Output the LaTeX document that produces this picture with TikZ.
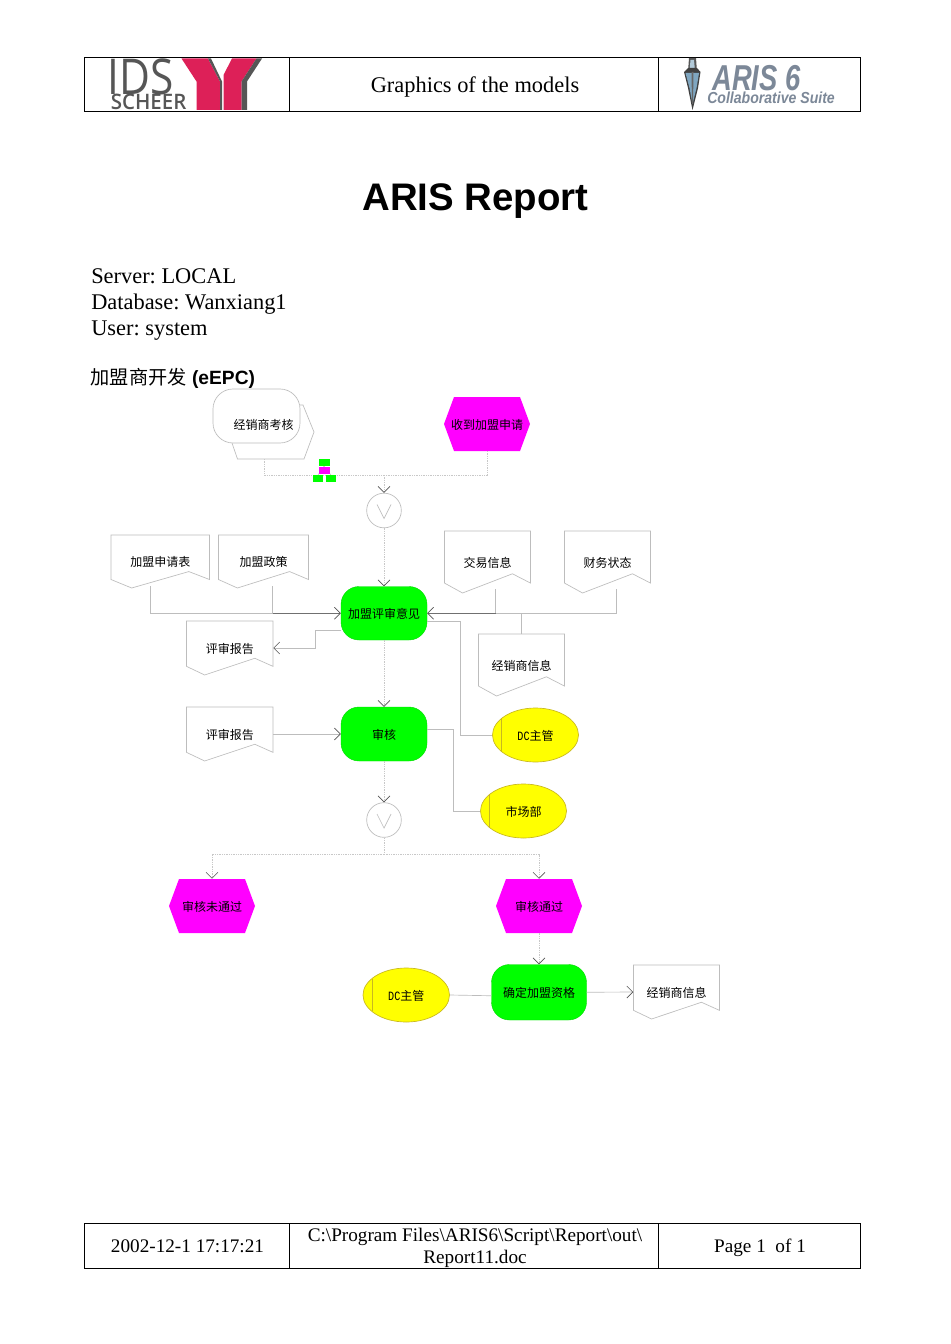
\documentclass[tikz,border=0pt]{standalone}
\usepackage{fontspec}
\setmainfont{Liberation Serif}
\newfontfamily\cjk{Noto Sans CJK SC}
\newfontfamily\lsans{Liberation Sans}
\newfontfamily\osansn[FakeStretch=0.86]{Open Sans}
\newfontfamily\osansb[FakeStretch=0.96]{Open Sans Semibold}
\newfontfamily\arisbig[FakeStretch=0.76,ItalicFont={Liberation Sans Bold Italic},BoldItalicFont={Liberation Sans Bold Italic}]{Liberation Sans}
\newfontfamily\arissmall[FakeStretch=0.88,ItalicFont={Liberation Sans Bold Italic},BoldItalicFont={Liberation Sans Bold Italic}]{Liberation Sans}
\newfontfamily\dcmono[FakeStretch=0.8]{Liberation Mono}
\usetikzlibrary{arrows.meta,shapes.geometric,calc}
\definecolor{conn}{HTML}{BDBDBD}
\definecolor{sharedc}{HTML}{707070}
\definecolor{dashc}{HTML}{C8C8C8}
\definecolor{tipc}{HTML}{555555}
\definecolor{evt}{HTML}{FF00FF}
\definecolor{fnc}{HTML}{00FF00}
\definecolor{org}{HTML}{FFFF00}
\definecolor{orgline}{HTML}{C8B820}
\definecolor{idsgray}{HTML}{565656}
\definecolor{idspink}{HTML}{DD2058}
\definecolor{arisgray}{HTML}{7C8898}
\definecolor{bobblue}{HTML}{7FA6C0}
\tikzset{
  frameline/.style={draw=black,line width=0.75pt},
  dtext/.style={font=\cjk\fontsize{9}{11}\selectfont,text=black,inner sep=0pt,text height=8pt,text depth=0.4pt},
  docbox/.style={dtext,rectangle},
  docline/.style={draw=conn,line width=0.5pt},
  fncbox/.style={dtext,rectangle,rounded corners=13.5pt,fill=fnc,draw=fnc!85!black,line width=0.3pt},
  orgbox/.style={dtext,ellipse,fill=org,draw=orgline,line width=0.5pt},
  gatebox/.style={circle,draw=conn,line width=0.5pt,inner sep=0pt,minimum size=26pt},
  plainline/.style={draw=conn,line width=0.5pt},
  sharedline/.style={draw=sharedc,line width=0.5pt},
  arr/.style={plainline,-{Straight Barb[length=4.5pt,width=9pt,line width=0.45pt,color=tipc]}},
  flow/.style={draw=dashc,line width=0.6pt,dash pattern=on 1pt off 0.75pt},
  flowarr/.style={flow,-{Straight Barb[length=4.5pt,width=9pt,line width=0.45pt,color=tipc]}},
  serif14/.style={font=\fontsize{16.8}{20}\selectfont,inner sep=0pt,anchor=base},
  foot/.style={font=\fontsize{14.4}{16.5}\selectfont,inner sep=0pt,anchor=base},
}
% name x1 y1 x2 y2 text
\newcommand\docnode[6]{%
  \pgfmathsetmacro\nw{(#4-#2)*0.75}\pgfmathsetmacro\nh{(#5-#3)*0.75}%
  \node[docbox,minimum width=\nw pt,minimum height=\nh pt] (#1) at ({(#2+#4)/2},{(#3+#5)/2}) {#6};
  \draw[docline] (#2,#3) -- (#4,#3) -- (#4,{#3+0.84*(#5-#3)}) -- ({#2+0.79*(#4-#2)},{#3+0.69*(#5-#3)})
     -- ({#2+0.21*(#4-#2)},#5) -- (#2,{#3+0.84*(#5-#3)}) -- cycle;
}
\newcommand\evtnode[6]{%
  \pgfmathsetmacro\nw{(#4-#2)*0.75}\pgfmathsetmacro\nh{(#5-#3)*0.75}%
  \fill[evt] (#2,{(#3+#5)/2}) -- ({#2+10},#3) -- ({#4-10},#3) -- (#4,{(#3+#5)/2}) -- ({#4-10},#5) -- ({#2+10},#5) -- cycle;
  \node[docbox,minimum width=\nw pt,minimum height=\nh pt] (#1) at ({(#2+#4)/2},{(#3+#5)/2}) {#6};
}
\newcommand\fncnode[6]{%
  \pgfmathsetmacro\nw{(#4-#2)*0.75}\pgfmathsetmacro\nh{(#5-#3)*0.75}%
  \node[fncbox,minimum width=\nw pt,minimum height=\nh pt] (#1) at ({(#2+#4)/2},{(#3+#5)/2}) {#6};
}
% name x1 y1 x2 y2 barx text
\newcommand\orgnode[7]{%
  \pgfmathsetmacro\nw{(#4-#2)*0.75}\pgfmathsetmacro\nh{(#5-#3)*0.75}%
  \node[orgbox,minimum width=\nw pt,minimum height=\nh pt] (#1) at ({(#2+#4)/2},{(#3+#5)/2}) {#7};
  \pgfmathsetmacro\dy{((#5-#3)/2)*sqrt(1-((#6-(#2+#4)/2)/((#4-#2)/2))^2)}%
  \draw[orgline,line width=0.5pt] (#6,{(#3+#5)/2-\dy}) -- (#6,{(#3+#5)/2+\dy});
}
\newcommand\gatenode[3]{%
  \node[gatebox] (#1) at (#2,#3) {};
  \draw[conn,line width=0.5pt] ({#2-7},{#3-6}) -- (#2,{#3+8}) -- ({#2+7},{#3-6});
}
\newcommand\dc{{\dcmono\fontsize{9.5}{9}\selectfont DC}}
\begin{document}
\frenchspacing
\begin{tikzpicture}[x=0.75pt,y=-0.75pt]
\useasboundingbox (0,0) rectangle (950,1344);
\fill[white] (0,0) rectangle (950,1344);

% ---------- header ----------
\draw[frameline] (84.5,57.5) rectangle (860.5,111.5);
\draw[frameline] (289.5,57.5) -- (289.5,111.5);
\draw[frameline] (658.5,57.5) -- (658.5,111.5);
% IDS logo
\fill[idspink] (181.5,58.5) -- (208,58.5) -- (220,81.5) -- (220,110) -- (196.5,110) -- (196.5,81.5) -- cycle;
\fill[idspink] (232,58.5) -- (256.5,58.5) -- (241.5,81.5) -- (241.5,110) -- (223.5,110) -- (223.5,75) -- cycle;
\fill[idsgray] (208,58.5) -- (211,58.5) -- (222,81.5) -- (222,110) -- (220,110) -- (220,81.5) -- cycle;
\fill[idsgray] (256.5,58.5) -- (262,58.5) -- (247,81.5) -- (247,110) -- (241.5,110) -- (241.5,81.5) -- cycle;
\node[font=\osansn\fontsize{37}{40}\selectfont,text=idsgray,inner sep=0pt,anchor=base west] (ids) at (107,95) {IDS};
\node[font=\osansb\fontsize{16}{18}\selectfont,text=idsgray,inner sep=0pt,anchor=base west] (scheer) at (110.5,109.5) {SCHEER};
% ARIS logo
\fill[idsgray] (689,58) -- (696,58) -- (697,72) -- (688,72) -- cycle;
\fill[bobblue!60] (690.5,60) -- (694,60) -- (695,71) -- (689.5,71) -- cycle;
\fill[black!75] (684,72) -- (688,68) -- (697,68) -- (700.5,72) -- (698,88) -- (692.5,110) -- (688,88) -- cycle;
\fill[bobblue] (685.5,73) -- (699,73) -- (696.5,88) -- (692.5,104) -- (689.5,88) -- cycle;
\fill[black!60] (691.5,72) -- (693.5,72) -- (693,104) -- (692,104) -- cycle;
\node[font=\arisbig\itshape\fontsize{27}{30}\selectfont,text=arisgray,inner sep=0pt,anchor=base west] (aris) at (712,91) {ARIS 6};
\node[font=\arissmall\itshape\fontsize{12}{14}\selectfont,text=arisgray,inner sep=0pt,anchor=base west] (collab) at (707,104) {Collaborative Suite};
\node[serif14] (hdr) at (475,93) {Graphics of the models};

% ---------- titles ----------
\node[font=\lsans\bfseries\fontsize{28.8}{32}\selectfont,inner sep=0pt,anchor=base] (title) at (475.5,211) {ARIS Report};
\node[serif14,anchor=base west] (srv) at (91,284) {Server: LOCAL};
\node[serif14,anchor=base west] (db) at (91,310) {Database: Wanxiang1};
\node[serif14,anchor=base west] (usr) at (91,335) {User: system};
\node[font=\lsans\bfseries\fontsize{14.4}{16}\selectfont,inner sep=0pt,anchor=base west] (mdl) at (90.5,384) {{\cjk\mdseries 加盟商开发} (eEPC)};

% ---------- diagram nodes ----------
% process interface
\draw[docline] (300,405) -- (303,405) -- (314,432) -- (304,459) -- (237.5,459) -- (232,443);
\draw[docline,rounded corners=15pt] (213,389) rectangle (300,443);
\node[docbox,minimum width=75.75pt,minimum height=52.5pt] (pif) at (263.5,424) {经销商考核};
\evtnode{ev1}{444}{397}{530}{451}{收到加盟申请}
\gatenode{g1}{384}{510.5}
\docnode{d1}{111}{535}{209.5}{588}{加盟申请表}
\docnode{d2}{218.5}{535}{308.5}{588}{加盟政策}
\docnode{d3}{444.5}{531}{530.5}{593}{交易信息}
\docnode{d4}{564.5}{531}{650.5}{593}{财务状态}
\docnode{d5}{478.5}{634}{564.5}{696}{经销商信息}
\docnode{d6}{186.5}{621}{273}{675}{评审报告}
\docnode{d7}{186.5}{707}{273}{761}{评审报告}
\fncnode{f1}{341}{586.5}{427}{640}{加盟评审意见}
\fncnode{f2}{341}{707}{427}{761}{审核}
\fncnode{f3}{491.5}{964.5}{586.5}{1020}{确定加盟资格}
\orgnode{o1}{492.5}{708}{578.5}{762}{501.5}{\dc 主管}
\orgnode{o2}{480.5}{784}{566.5}{838}{489.5}{市场部}
\orgnode{o3}{363}{968}{449.5}{1022}{372}{\dc 主管}
\gatenode{g2}{384}{820}
\evtnode{ev2}{169}{879}{255}{933}{审核未通过}
\evtnode{ev3}{496}{879}{582}{933}{审核通过}
\docnode{d8}{633.5}{965}{719.5}{1019}{经销商信息}

% ---------- connectors ----------
\coordinate (j1) at (384,475);
\coordinate (p1) at (264,459);
\coordinate (e1) at (487,451);
\draw[flow] (p1) |- (j1);
\draw[flow] (e1) |- (j1);
\draw[flowarr] (j1) -- (g1.north);
\draw[flowarr] (g1.south) -- (f1.north);
\coordinate (k1) at (150.5,586);
\coordinate (k2) at (272.5,586);
\coordinate (k3) at (495.5,589);
\coordinate (k4) at (616.5,589);
\coordinate (k5) at (521.5,634);
\draw[plainline] (k1) |- (k2 |- f1.west);
\draw[plainline] (k2) -- (k2 |- f1.west);
\draw[sharedline,-{Straight Barb[length=4.5pt,width=9pt,line width=0.45pt,color=tipc]}] (k2 |- f1.west) -- (f1.west);
\draw[plainline] (k4) |- (k3 |- f1.east);
\draw[plainline] (k3) -- (k3 |- f1.east);
\draw[sharedline,-{Straight Barb[length=4.5pt,width=9pt,line width=0.45pt,color=tipc]}] (k3 |- f1.east) -- (f1.east);
\draw[plainline] (k5) -- (k5 |- f1.east);
\coordinate (a1) at (341,630);
\coordinate (a2) at (315.5,630);
\coordinate (a3) at (315.5,648);
\draw[arr] (a1) -- (a2) -- (a3) -- (d6.east);
\coordinate (b1) at (427,621);
\coordinate (b2) at (460.5,621);
\draw[plainline] (b1) -- (b2) |- (o1.west);
\draw[flowarr] (f1.south) -- (f2.north);
\draw[arr] (d7.east) -- (f2.west);
\coordinate (c1) at (427,729.5);
\coordinate (c2) at (453.5,729.5);
\draw[plainline] (c1) -- (c2) |- (o2.west);
\draw[flowarr] (f2.south) -- (g2.north);
\coordinate (j2) at (384,854);
\draw[flow] (g2.south) -- (j2);
\draw[flowarr] (j2) -| (ev2.north);
\draw[flowarr] (j2) -| (ev3.north);
\draw[flowarr] (ev3.south) -- (f3.north);
\draw[plainline] (o3.east) -- ($(f3.west)+(0,3.5)$);
\draw[arr] (f3.east) -- (d8.west);

% icon
\draw[conn,line width=0.4pt] (324,466) -- (318,475);
\draw[conn,line width=0.4pt] (324,466) -- (331,475);
\fill[fnc] (319,459) rectangle (329.5,465.5);
\fill[evt] (319,467) rectangle (329.5,474);
\fill[fnc] (313,475) rectangle (323,481.5);
\fill[fnc] (326,475) rectangle (336,481.5);

% ---------- footer ----------
\draw[frameline] (84.5,1223) rectangle (860.5,1268);
\draw[frameline] (289.5,1223) -- (289.5,1268);
\draw[frameline] (658.5,1223) -- (658.5,1268);
\node[foot] (fa) at (187.5,1252) {2002-12-1 17:17:21};
\node[foot] (fb) at (475,1241) {C:\textbackslash Program Files\textbackslash ARIS6\textbackslash Script\textbackslash Report\textbackslash out\textbackslash};
\node[foot] (fc) at (475,1263) {Report11.doc};
\node[foot] (fd) at (760,1252) {Page 1\ \ of 1};
\end{tikzpicture}
\end{document}
